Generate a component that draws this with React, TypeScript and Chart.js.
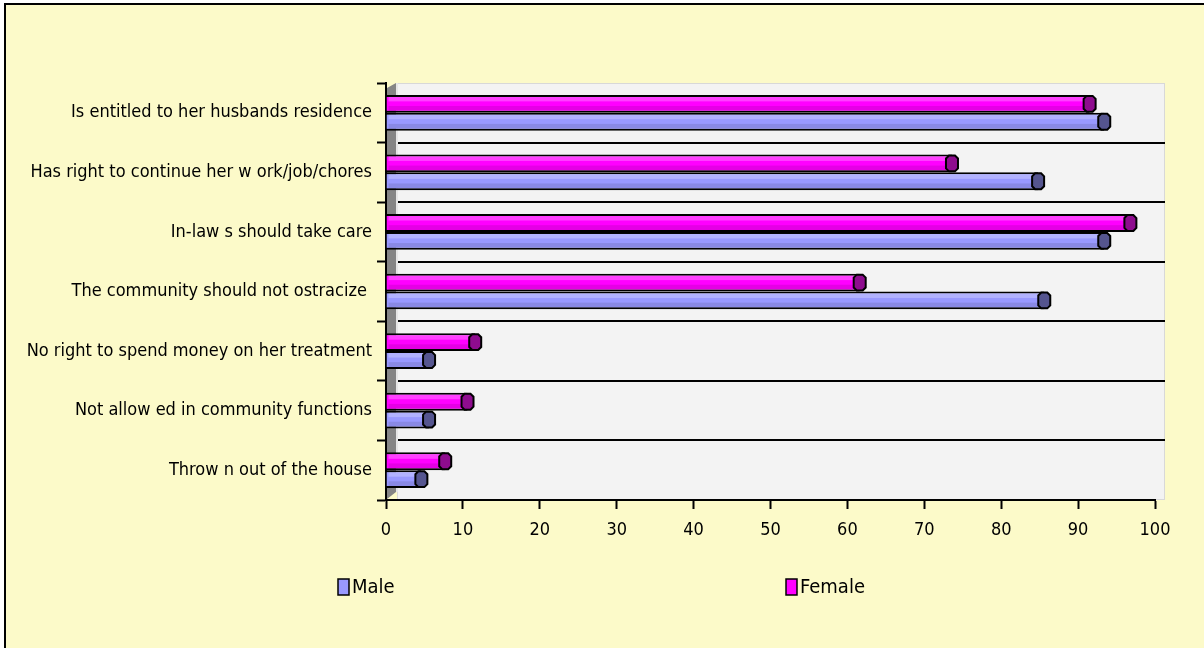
import React, { useEffect, useRef } from "react";
import { Chart, registerables } from "chart.js";

Chart.register(...registerables);

const categories = [
  "Is entitled to her husbands residence",
  "Has right to continue her w ork/job/chores",
  "In-law s should take care",
  "The community should not ostracize ",
  "No right to spend money on her treatment",
  "Not allow ed in community functions",
  "Throw n out of the house",
];
const seriesNames = ["Male", "Female"];
const maleValues = [93.4, 84.8, 93.4, 85.6, 5.6, 5.6, 4.6];
const femaleValues = [91.5, 73.6, 96.8, 61.6, 11.6, 10.6, 7.7];
const xMin = 0;
const xMax = 100;
const xStep = 10;

const FONT = "'DejaVu Sans Condensed', 'DejaVu Sans', sans-serif";
const MALE_COLOR = "#9999FF";
const MALE_CAP = "#55558F";
const FEMALE_COLOR = "#FF00FF";
const FEMALE_CAP = "#8E0C8E";

const decorPlugin = {
  id: "decor",
  beforeDraw(chart: any) {
    const { ctx, chartArea } = chart;
    const { left, right, top, bottom } = chartArea;
    ctx.save();
    ctx.fillStyle = "#F3F3F3";
    ctx.fillRect(left + 11, top, right + 10 - (left + 11), bottom - top);
    ctx.strokeStyle = "#D8D8D8";
    ctx.lineWidth = 1;
    ctx.strokeRect(left + 11.5, top + 0.5, right + 10 - (left + 11) - 1, bottom - top - 1);
    ctx.restore();
  },
  beforeDatasetsDraw(chart: any) {
    const { ctx, chartArea, scales } = chart;
    const { left, right, top, bottom } = chartArea;
    const yScale = scales.y;
    ctx.save();
    // category separator lines across the floor
    const n = chart.data.labels.length;
    const half = (yScale.getPixelForValue(1) - yScale.getPixelForValue(0)) / 2;
    ctx.strokeStyle = "#000";
    ctx.lineWidth = 2;
    for (let i = 1; i < n; i++) {
      const yy = Math.round(yScale.getPixelForValue(i) - half);
      ctx.beginPath();
      ctx.moveTo(left + 11, yy);
      ctx.lineTo(right + 10, yy);
      ctx.stroke();
    }
    // left wall
    ctx.fillStyle = "#858585";
    ctx.beginPath();
    ctx.moveTo(left + 1, top + 5);
    ctx.lineTo(left + 10, top);
    ctx.lineTo(left + 10, bottom - 8);
    ctx.lineTo(left + 1, bottom - 1);
    ctx.closePath();
    ctx.fill();
    ctx.fillStyle = "#E6E6E6";
    ctx.fillRect(left + 10, top, 2, bottom - top - 8);
    ctx.restore();
  },
  afterDatasetsDraw(chart: any) {
    const { ctx } = chart;
    ctx.save();
    chart.data.datasets.forEach((ds: any, di: number) => {
      const meta = chart.getDatasetMeta(di);
      const capColor = ds.capColor;
      meta.data.forEach((bar: any) => {
        const p = bar.getProps(["x", "y", "base", "height"], true);
        const top = p.y - p.height / 2;
        const bottom = p.y + p.height / 2;
        const len = p.x - p.base;
        ctx.fillStyle = "rgba(255,255,255,0.25)";
        ctx.fillRect(p.base + 2, top + 2, Math.max(0, len - 4), p.height * 0.25);
        ctx.fillStyle = "rgba(0,0,0,0.10)";
        ctx.fillRect(p.base + 2, bottom - p.height * 0.38, Math.max(0, len - 4), p.height * 0.38 - 1);
        const x = p.x;
        ctx.beginPath();
        ctx.moveTo(x - 6, top + 4);
        ctx.lineTo(x - 3, top + 1);
        ctx.lineTo(x + 3, top + 1);
        ctx.lineTo(x + 6, top + 4);
        ctx.lineTo(x + 6, bottom - 4);
        ctx.lineTo(x + 3, bottom - 1);
        ctx.lineTo(x - 3, bottom - 1);
        ctx.lineTo(x - 6, bottom - 4);
        ctx.closePath();
        ctx.fillStyle = capColor;
        ctx.fill();
        ctx.strokeStyle = "#000";
        ctx.lineWidth = 2;
        ctx.stroke();
      });
    });
    ctx.restore();
  },
  afterDraw(chart: any) {
    const { ctx } = chart;
    const items = [
      { label: seriesNames[0], color: MALE_COLOR, x: 338 },
      { label: seriesNames[1], color: FEMALE_COLOR, x: 786 },
    ];
    const y = 587;
    ctx.save();
    ctx.font = `20px ${FONT}`;
    ctx.textBaseline = "middle";
    items.forEach((it) => {
      ctx.fillStyle = it.color;
      ctx.fillRect(it.x, y - 8, 11, 16);
      ctx.strokeStyle = "#000";
      ctx.lineWidth = 1.5;
      ctx.strokeRect(it.x, y - 8, 11, 16);
      ctx.fillStyle = "#000";
      ctx.fillText(it.label, it.x + 14, y + 1);
    });
    ctx.restore();
  },
};

export default function App() {
  const ref = useRef<HTMLCanvasElement | null>(null);

  useEffect(() => {
    if (!ref.current) return;
    const chart = new Chart(ref.current, {
      type: "bar",
      data: {
        labels: categories,
        datasets: [
          {
            label: seriesNames[1],
            data: femaleValues,
            backgroundColor: FEMALE_COLOR,
            borderColor: "#000",
            borderWidth: 2,
            capColor: FEMALE_CAP,
          } as any,
          {
            label: seriesNames[0],
            data: maleValues,
            backgroundColor: MALE_COLOR,
            borderColor: "#000",
            borderWidth: 2,
            capColor: MALE_CAP,
          } as any,
        ],
      },
      options: {
        indexAxis: "y",
        animation: false,
        responsive: false,
        maintainAspectRatio: false,
        layout: { padding: { left: 10, right: 49, top: 83, bottom: 100 } },
        datasets: { bar: { categoryPercentage: 0.6, barPercentage: 1 } },
        plugins: { legend: { display: false }, tooltip: { enabled: false } },
        scales: {
          x: {
            min: xMin,
            max: xMax,
            ticks: {
              stepSize: xStep,
              color: "#000",
              font: { family: FONT, size: 18 },
              padding: 11,
            },
            grid: {
              drawOnChartArea: false,
              tickLength: 9,
              tickColor: "#000",
              tickWidth: 2,
            },
            border: { color: "#000", width: 2 },
            afterFit: (s: any) => {
              s.height = 48;
            },
          },
          y: {
            ticks: {
              color: "#000",
              font: { family: FONT, size: 18 },
              padding: 5,
            },
            grid: {
              offset: true,
              drawOnChartArea: false,
              tickLength: 9,
              tickColor: "#000",
              tickWidth: 2,
            },
            border: { color: "#000", width: 2 },
            afterFit: (s: any) => {
              s.width = 376;
            },
          },
        },
      } as any,
      plugins: [decorPlugin],
    });
    return () => chart.destroy();
  }, []);

  return (
    <div style={{ position: "fixed", left: 0, top: 0, width: 1204, height: 648, overflow: "hidden", background: "#FFFFFF" }}>
      <div
        style={{
          position: "absolute",
          left: 4,
          top: 3,
          width: 1220,
          height: 670,
          border: "2px solid #000",
          background: "#FCFAC9",
        }}
      />
      <canvas ref={ref} width={1204} height={648} style={{ position: "absolute", left: 0, top: 0 }} />
    </div>
  );
}
